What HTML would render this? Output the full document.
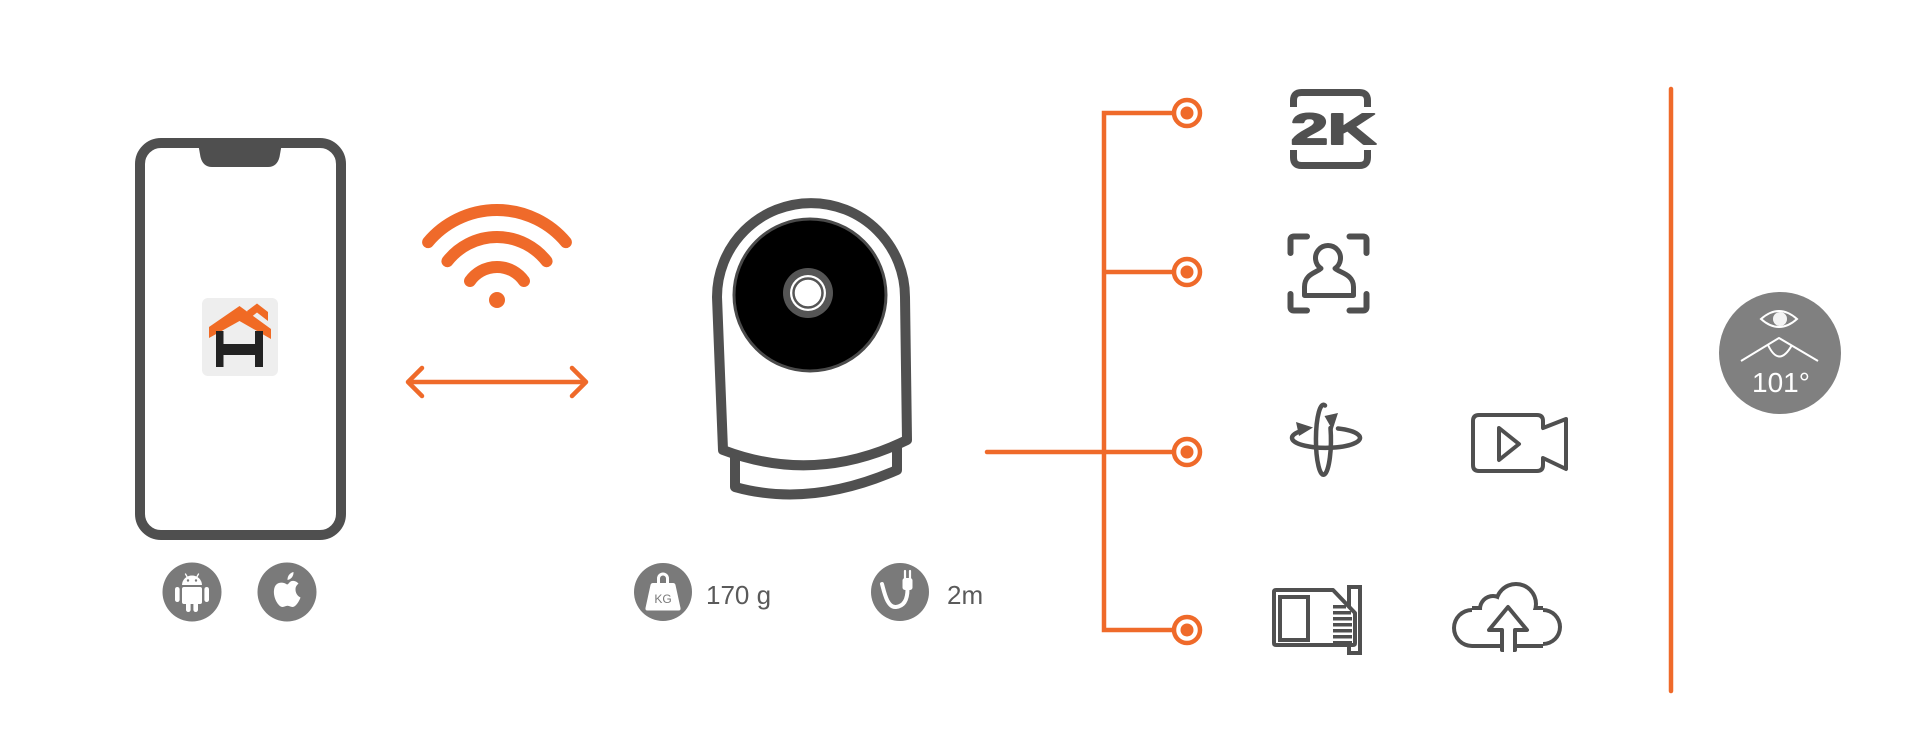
<!DOCTYPE html>
<html>
<head>
<meta charset="utf-8">
<style>
  html, body { margin:0; padding:0; background:#ffffff; }
  body { width:1920px; height:750px; overflow:hidden; }
  svg { display:block; }
</style>
</head>
<body>
<svg width="1920" height="750" viewBox="0 0 1920 750" xmlns="http://www.w3.org/2000/svg">
  <rect x="0" y="0" width="1920" height="750" fill="#ffffff"/>

  <!-- ===== PHONE ===== -->
  <rect x="140" y="143" width="201" height="392" rx="21" ry="21" fill="#ffffff" stroke="#4f4f4f" stroke-width="10"/>
  <path d="M198,143 H282 L279.5,157 Q277,167 268,167 H212 Q203,167 200.5,157 Z" fill="#4f4f4f"/>

  <!-- app icon -->
  <rect x="202" y="298" width="76" height="78" rx="6" ry="6" fill="#eeeeee"/>
  <polygon points="247,311 257,303.5 268,312 268,321 257,312.5 250,318" fill="#f06a24"/>
  <polygon points="209,327 239.5,306 271,329 271,339 239.5,321 209,338" fill="#f06a24"/>
  <rect x="216" y="331" width="7.5" height="36" fill="#222222"/>
  <rect x="255" y="331" width="8" height="36" fill="#222222"/>
  <rect x="223" y="344" width="32" height="11" fill="#222222"/>

  <!-- ===== WIFI ===== -->
  <g fill="none" stroke="#ef6a2a" stroke-width="12" stroke-linecap="round">
    <path d="M428.1,242.1 A90,90 0 0 1 565.9,242.1"/>
    <path d="M447.4,261.2 A63,63 0 0 1 546.6,261.2"/>
    <path d="M470,281 A33,33 0 0 1 524,281"/>
  </g>
  <circle cx="497" cy="300" r="8" fill="#ef6a2a"/>

  <!-- double arrow -->
  <g fill="none" stroke="#ef6a2a" stroke-width="4.5" stroke-linecap="round" stroke-linejoin="round">
    <line x1="409" y1="382" x2="585" y2="382"/>
    <polyline points="422,368 408,382 422,396"/>
    <polyline points="572,368 586,382 572,396"/>
  </g>

  <!-- ===== CAMERA ===== -->
  <path d="M735,440 V487 Q810,508 897,470 V440" fill="#ffffff" stroke="#505050" stroke-width="10" stroke-linejoin="round"/>
  <path d="M723,450 L717,297 A94,94 0 0 1 905,297 L907,440 Q815,485 723,450 Z" fill="#ffffff" stroke="#505050" stroke-width="10" stroke-linejoin="round"/>
  <circle cx="810" cy="295" r="76" fill="#000000" stroke="#4a4a4a" stroke-width="3"/>
  <circle cx="808" cy="293" r="25" fill="#555555"/>
  <circle cx="808" cy="293" r="18" fill="#ffffff"/>
  <circle cx="808" cy="293" r="14.5" fill="#ffffff" stroke="#555555" stroke-width="2.5"/>

  <!-- ===== BOTTOM LEFT ICONS ===== -->
  <circle cx="192" cy="592" r="29.5" fill="#7a7a7a"/>
  <g fill="#ffffff">
    <path d="M182,585 A10,9.5 0 0 1 202,585 Z"/>
    <rect x="182" y="587" width="20" height="17" rx="2"/>
    <rect x="175" y="587" width="4.6" height="15" rx="2.3"/>
    <rect x="204.4" y="587" width="4.6" height="15" rx="2.3"/>
    <rect x="186" y="600" width="4.6" height="12" rx="2.3"/>
    <rect x="193.4" y="600" width="4.6" height="12" rx="2.3"/>
  </g>
  <g stroke="#ffffff" stroke-width="1.3" stroke-linecap="round">
    <line x1="185.5" y1="574" x2="187.5" y2="577.5"/>
    <line x1="198.5" y1="574" x2="196.5" y2="577.5"/>
  </g>
  <circle cx="188" cy="580.5" r="1.2" fill="#7a7a7a"/>
  <circle cx="196" cy="580.5" r="1.2" fill="#7a7a7a"/>

  <circle cx="287" cy="592" r="29.5" fill="#7a7a7a"/>
  <path fill="#ffffff" d="M287,584.5 C283,581.5 275,581.5 274,590 C273,598 278.5,607 282.5,607 C284.5,607 285.5,605.8 287.5,605.8 C289.5,605.8 290.5,607 292.5,607 C296,607 299.5,600.5 300.5,597.5 C297,595.8 295.5,592.5 295.5,589.5 C295.5,586.5 297,584.8 298.5,583.8 C296.5,581 293,580.5 291,581.2 C289.5,581.8 288.3,584.5 287,584.5 Z"/>
  <path fill="#ffffff" d="M287.5,580 C287.3,576 290,572.8 293.5,572 C293.8,576 291,579.5 287.5,580 Z"/>

  <!-- KG -->
  <circle cx="663" cy="592" r="29" fill="#7a7a7a"/>
  <path d="M658.5,584 V578.5 A4.5,4.5 0 0 1 667.5,578.5 V584" fill="none" stroke="#ffffff" stroke-width="3"/>
  <path d="M653,583 H673 Q675,583 675.5,585 L680.5,608 Q681,610.5 678.5,610.5 H647.5 Q645,610.5 645.5,608 L650.5,585 Q651,583 653,583 Z" fill="#ffffff"/>
  <text x="663" y="603" text-anchor="middle" font-family="Liberation Sans, sans-serif" font-size="12" fill="#7a7a7a">KG</text>
  <text x="706" y="604" font-family="Liberation Sans, sans-serif" font-size="26" fill="#5a5a5a">170 g</text>

  <!-- plug -->
  <circle cx="900" cy="592" r="29" fill="#7a7a7a"/>
  <path d="M882,584 C884,591 887,608 896,607 C905,606 907.5,598 907.5,589" fill="none" stroke="#ffffff" stroke-width="4" stroke-linecap="round"/>
  <rect x="902.5" y="578" width="10" height="12" rx="2.5" fill="#ffffff"/>
  <g stroke="#ffffff" stroke-width="2.2" stroke-linecap="round">
    <line x1="905" y1="571" x2="905" y2="578"/>
    <line x1="910" y1="571" x2="910" y2="578"/>
  </g>
  <text x="947" y="604" font-family="Liberation Sans, sans-serif" font-size="26" fill="#5a5a5a">2m</text>

  <!-- ===== ORANGE CONNECTORS ===== -->
  <g fill="none" stroke="#ef6a2a" stroke-width="4.5">
    <line x1="987" y1="452" x2="1176" y2="452" stroke-linecap="round"/>
    <polyline points="1176,113 1104,113 1104,630 1176,630"/>
    <line x1="1104" y1="272" x2="1176" y2="272"/>
  </g>
  <g fill="#ffffff" stroke="#ef6a2a" stroke-width="4.5">
    <circle cx="1187" cy="113" r="13"/>
    <circle cx="1187" cy="272" r="13"/>
    <circle cx="1187" cy="452" r="13"/>
    <circle cx="1187" cy="630" r="13"/>
  </g>
  <g fill="#ef6a2a">
    <circle cx="1187" cy="113" r="6.5"/>
    <circle cx="1187" cy="272" r="6.5"/>
    <circle cx="1187" cy="452" r="6.5"/>
    <circle cx="1187" cy="630" r="6.5"/>
  </g>

  <!-- ===== FEATURE ICONS ===== -->
  <!-- 2K -->
  <g fill="none" stroke="#505050" stroke-width="7">
    <path d="M1293.5,107 V100.5 Q1293.5,92.5 1301.5,92.5 H1359.5 Q1367.5,92.5 1367.5,100.5 V107"/>
    <path d="M1293.5,150 V157.5 Q1293.5,165.5 1301.5,165.5 H1359.5 Q1367.5,165.5 1367.5,157.5 V150"/>
  </g>
  <text x="1291" y="144" font-family="Liberation Sans, sans-serif" font-weight="bold" font-size="44" textLength="85" lengthAdjust="spacingAndGlyphs" fill="#505050" stroke="#505050" stroke-width="2" stroke-linejoin="round">2K</text>

  <!-- face -->
  <g fill="none" stroke="#505050" stroke-width="6" stroke-linecap="round">
    <path d="M1290.5,253 V240 Q1290.5,236.5 1294,236.5 H1307"/>
    <path d="M1349.5,236.5 H1363 Q1366.5,236.5 1366.5,240 V253"/>
    <path d="M1290.5,294 V307 Q1290.5,310.5 1294,310.5 H1307"/>
    <path d="M1349.5,310.5 H1363 Q1366.5,310.5 1366.5,307 V294"/>
  </g>
  <path d="M1321,268.4 A12.5,12.5 0 1 1 1335,268.4 C1340,273 1353.5,274 1353.5,287 V295.5 H1304.5 V287 C1304.5,274 1316,273 1321,268.4 Z" fill="none" stroke="#505050" stroke-width="5" stroke-linejoin="round"/>

  <!-- rotate -->
  <g fill="none" stroke="#505050" stroke-width="4.5" stroke-linecap="round">
    <path d="M1330.5,428 A7.5,35 0 1 1 1325,405.5" />
    <path d="M1338,428.5 A34,10 0 1 1 1303,430.5"/>
  </g>
  <polygon points="1324.5,416 1338,413 1332.5,430" fill="#505050"/>
  <polygon points="1296,422 1313,427.5 1299,436" fill="#505050"/>

  <!-- video -->
  <path d="M1543,428 V421 Q1543,415 1537,415 H1479 Q1473,415 1473,421 V465 Q1473,471 1479,471 H1537 Q1543,471 1543,465 V458 L1566,469 V419 Z" fill="none" stroke="#505050" stroke-width="4" stroke-linejoin="round"/>
  <path d="M1499,428 L1519,444 L1499,460 Z" fill="none" stroke="#505050" stroke-width="4" stroke-linejoin="round"/>

  <!-- SD card -->
  <rect x="1349" y="587" width="11" height="66" fill="#ffffff" stroke="#505050" stroke-width="4"/>
  <path d="M1276,590 H1333 L1355,613 V643 Q1355,645 1353,645 H1276 Q1274,645 1274,643 V592 Q1274,590 1276,590 Z" fill="#ffffff" stroke="#505050" stroke-width="4" stroke-linejoin="round"/>
  <rect x="1280" y="597" width="28" height="43" fill="none" stroke="#505050" stroke-width="4"/>
  <g fill="#505050">
    <rect x="1333" y="605" width="13" height="3.5"/>
    <rect x="1333" y="611" width="18" height="3.5"/>
    <rect x="1333" y="617" width="19" height="3.5"/>
    <rect x="1333" y="623" width="19" height="3.5"/>
    <rect x="1333" y="629" width="19" height="3.5"/>
    <rect x="1333" y="635" width="19" height="3.5"/>
    <rect x="1333" y="641" width="19" height="3"/>
  </g>

  <!-- cloud -->
  <g fill="#505050">
    <circle cx="1472" cy="628" r="20"/>
    <circle cx="1493" cy="609" r="15"/>
    <circle cx="1516" cy="604" r="22"/>
    <circle cx="1543" cy="627" r="19"/>
    <rect x="1472" y="606" width="71" height="42"/>
  </g>
  <g fill="#ffffff">
    <circle cx="1472" cy="628" r="16"/>
    <circle cx="1493" cy="609" r="11"/>
    <circle cx="1516" cy="604" r="18"/>
    <circle cx="1543" cy="627" r="15"/>
    <rect x="1472" y="610" width="71" height="34"/>
  </g>
  <path d="M1508,607 L1527,630 H1515 V650 H1502 V630 H1489 Z" fill="#ffffff" stroke="#505050" stroke-width="4" stroke-linejoin="round"/>
  <rect x="1504" y="640" width="9" height="12" fill="#ffffff"/>

  <!-- ===== RIGHT SECTION ===== -->
  <line x1="1671" y1="89" x2="1671" y2="691" stroke="#ef6a2a" stroke-width="4.5" stroke-linecap="round"/>
  <circle cx="1780" cy="353" r="61" fill="#808080"/>
  <path d="M1761,319 Q1779,303 1797,319 Q1779,335 1761,319 Z" fill="none" stroke="#ffffff" stroke-width="2"/>
  <circle cx="1780" cy="319" r="7" fill="#f4f4f4"/>
  <polyline points="1741,361 1779,338 1818,361" fill="none" stroke="#ffffff" stroke-width="2" stroke-linejoin="round"/>
  <path d="M1768,345 Q1779,368 1792,345" fill="none" stroke="#ffffff" stroke-width="2"/>
  <text x="1781" y="392" text-anchor="middle" font-family="Liberation Sans, sans-serif" font-size="28" fill="#ffffff">101°</text>
</svg>
</body>
</html>
